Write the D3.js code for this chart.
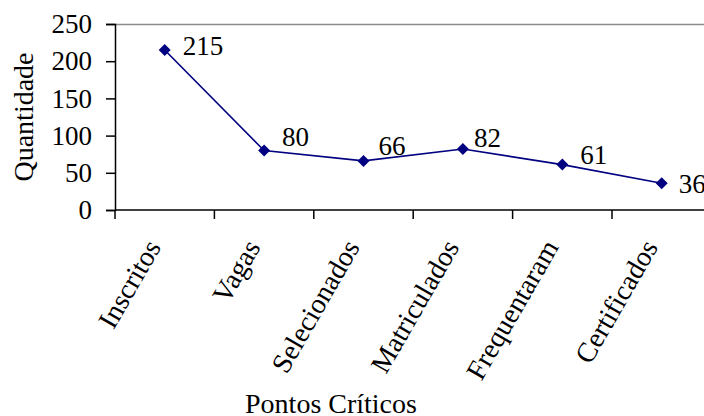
<!DOCTYPE html>
<html>
<head>
<meta charset="utf-8">
<script src="https://cdn.jsdelivr.net/npm/d3@7"></script>
<style>
  html, body { margin: 0; padding: 0; background: #fff; }
  svg { display: block; }
</style>
</head>
<body>
<svg id="chart" width="704" height="416"></svg>
<script>
// Data
const categories = ["Inscritos", "Vagas", "Selecionados", "Matriculados", "Frequentaram", "Certificados"];
const values = [215, 80, 66, 82, 61, 36];
const yTicks = [0, 50, 100, 150, 200, 250];
const yTitle = "Quantidade";
const xTitle = "Pontos Críticos";

// Layout
const W = 704, H = 416;
const plot = { left: 115, top: 24, bottom: 210, band: 99.4 };
const numSize = 27, textSize = 28;
const FONT = "'Liberation Serif', Tinos, 'Times New Roman', 'Nimbus Roman', 'DejaVu Serif', serif";
// per-label nudges for the value labels (px, relative to the marker)
const labelNudge = [[18, 5], [18, -4], [15, -6], [11, -2], [18, -1], [17, 10]];

const svg = d3.select("#chart");

const x = d3.scaleBand()
  .domain(categories)
  .range([plot.left, plot.left + plot.band * categories.length])
  .padding(0);
const y = d3.scaleLinear().domain([0, 250]).range([plot.bottom, plot.top]);
const cx = d => x(d) + x.bandwidth() / 2;

function styleText(sel, size) {
  return sel.attr("font-family", FONT).style("font-family", FONT)
    .attr("font-size", size).style("font-size", size + "px")
    .attr("fill", "#000");
}

// top border of the plot area
svg.append("line")
  .attr("x1", plot.left).attr("x2", W)
  .attr("y1", y(250) + 0.5).attr("y2", y(250) + 0.5)
  .attr("stroke", "#8c8c8c").attr("stroke-width", 1.5);

// y axis
const yAxis = svg.append("g")
  .attr("transform", `translate(${plot.left},0)`)
  .call(d3.axisLeft(y).tickValues(yTicks).tickSize(9).tickPadding(14).tickFormat(d3.format("d")));
yAxis.attr("font-family", FONT).attr("font-size", numSize);
yAxis.select(".domain").attr("stroke", "#000").attr("stroke-width", 1.5);
yAxis.selectAll(".tick line").attr("stroke", "#000").attr("stroke-width", 1.5);
styleText(yAxis.selectAll(".tick text"), numSize);

// x axis: line plus ticks at category boundaries
const xg = svg.append("g");
xg.append("line")
  .attr("x1", plot.left).attr("x2", W)
  .attr("y1", plot.bottom).attr("y2", plot.bottom)
  .attr("stroke", "#000").attr("stroke-width", 1.5);
const boundaries = categories.map(c => x(c));
xg.selectAll("line.tick")
  .data(boundaries)
  .join("line")
  .attr("class", "tick")
  .attr("x1", d => d).attr("x2", d => d)
  .attr("y1", plot.bottom).attr("y2", plot.bottom + 9)
  .attr("stroke", "#000").attr("stroke-width", 1.5);

// rotated category labels
xg.selectAll("text.cat")
  .data(categories)
  .join("text")
  .attr("class", "cat")
  .attr("text-anchor", "end")
  .attr("transform", d => `translate(${cx(d) - 3},${plot.bottom + 37}) rotate(-60)`)
  .text(d => d)
  .call(styleText, textSize);

// axis titles
svg.append("text")
  .attr("text-anchor", "middle")
  .attr("transform", `translate(33,${(plot.top + plot.bottom) / 2}) rotate(-90)`)
  .text(yTitle)
  .call(styleText, textSize);
svg.append("text")
  .attr("text-anchor", "middle")
  .attr("x", 331).attr("y", 413)
  .text(xTitle)
  .call(styleText, textSize);

// series line
const pts = categories.map((c, i) => ({ c, v: values[i], i }));
svg.append("path")
  .datum(pts)
  .attr("fill", "none")
  .attr("stroke", "#000080")
  .attr("stroke-width", 1.6)
  .attr("d", d3.line().x(d => cx(d.c)).y(d => y(d.v)));

// diamond markers
svg.selectAll("path.marker")
  .data(pts)
  .join("path")
  .attr("class", "marker")
  .attr("d", d3.symbol().type(d3.symbolSquare).size(72))
  .attr("transform", d => `translate(${cx(d.c)},${y(d.v)}) rotate(45)`)
  .attr("fill", "#000080");

// value labels
svg.selectAll("text.val")
  .data(pts)
  .join("text")
  .attr("class", "val")
  .attr("x", d => cx(d.c) + labelNudge[d.i][0])
  .attr("y", d => y(d.v) + labelNudge[d.i][1])
  .text(d => d.v)
  .call(styleText, numSize);
</script>
</body>
</html>
